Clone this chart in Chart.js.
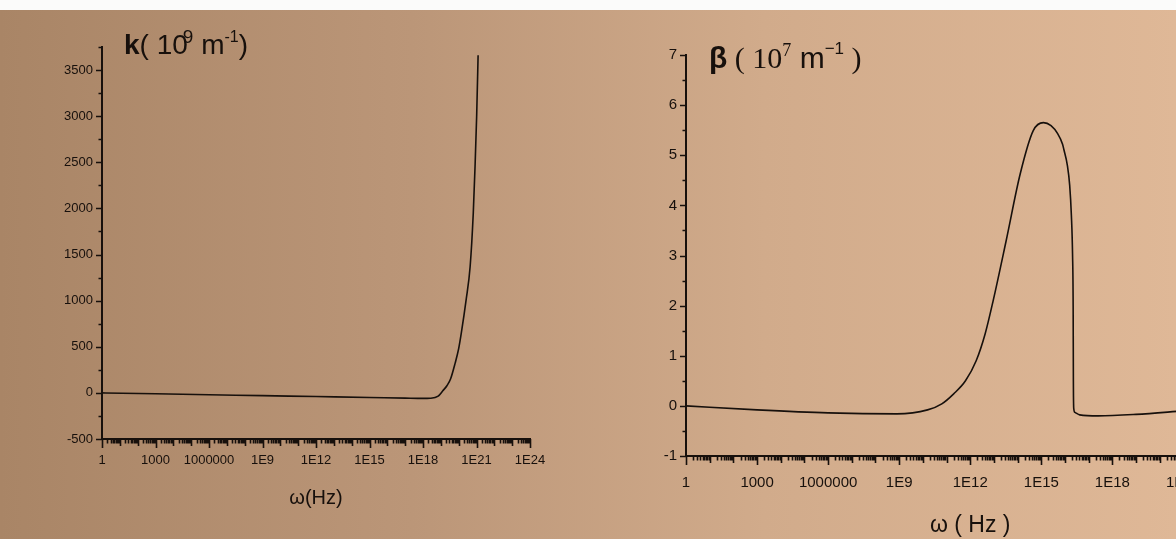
<!DOCTYPE html>
<html>
<head>
<meta charset="utf-8">
<script src="https://cdn.jsdelivr.net/npm/chart.js@4.4.1/dist/chart.umd.min.js"></script>
<style>
  html, body { margin: 0; padding: 0; }
  body {
    position: relative;
    width: 1176px;
    height: 539px;
    overflow: hidden;
    background: linear-gradient(90deg, #a98566 0%, #bb9678 35%, #d1ab8b 65%, #dfb897 100%);
    font-family: 'Liberation Sans', Arial, sans-serif;
    color: #17100c;
  }
  .strip { position: absolute; left: 0; top: 0; width: 100%; height: 10px; background: #fbfbfa; }
  canvas { position: absolute; top: 0; }
  #kChart { left: 0; }
  #betaChart { left: 590px; }
  .ttl { position: absolute; white-space: nowrap; line-height: 1; }
  .ttl sup { line-height: 0; }
  .serif { font-family: 'Liberation Serif', 'Times New Roman', serif; }
</style>
</head>
<body>
<div class="strip"></div>

<canvas id="kChart" width="590" height="539"></canvas>
<canvas id="betaChart" width="700" height="539"></canvas>

<div class="ttl" style="left:124px; top:31px; font-size:28px;">
  <b>k</b>( 10<sup style="font-size:19px; vertical-align:11px; margin-left:-5px;">9</sup> m<sup style="font-size:16px; vertical-align:12px;">-1</sup>)
</div>
<div class="ttl" style="left:709px; top:43px; font-size:30px;">
  <b>β</b><span class="serif"> ( 10<sup style="font-size:18px; vertical-align:12px;">7</sup></span> m<sup style="font-size:17px; vertical-align:14px;">−1</sup><span class="serif"> )</span>
</div>

<script>
// k(ω) in 10^9 m^-1
const omegaK = [1, 1e3, 1e6, 1e9, 1e12, 1e15, 1e17, 1e18, 2.5e18, 7.1e18, 1.26e19,
  2.24e19, 3.5e19, 6.3e19, 1e20, 1.41e20, 2.63e20, 4.4e20, 6.6e20, 8.3e20, 1.02e21, 1.23e21];
const kValues = [0, -10, -20, -30, -40, -50, -57, -60, -58, -35, 20,
  80, 150, 320, 480, 650, 1011, 1370, 1950, 2457, 3000, 3660];

// β(ω) in 10^7 m^-1
const omegaB = [1, 1e3, 1e6, 7.9e8, 1.58e10, 6.3e10, 2e11, 6.3e11, 1.78e12, 4.27e12,
  9.3e12, 3.3e13, 1.29e14, 4.57e14, 1.23e15, 2.57e15, 4.9e15, 7.9e15, 8.9e15,
  1.26e16, 1.58e16, 1.86e16, 2.09e16, 2.21e16, 2.26e16, 2.34e16, 2.63e16, 4.17e16,
  2.5e17, 1e19, 1e21];
const betaValues = [0, -0.08, -0.14, -0.16, -0.08, 0.04, 0.24, 0.5, 0.9, 1.44,
  2.1, 3.3, 4.63, 5.49, 5.65, 5.59, 5.43, 5.22, 5.12,
  4.8, 4.4, 3.8, 3.0, 2.0, 0.5, -0.05, -0.13, -0.18,
  -0.2, -0.17, -0.1];

// axis ticks
const omegaTicks = [1, 1e3, 1e6, 1e9, 1e12, 1e15, 1e18, 1e21, 1e24];
const omegaTickLabels = ['1', '1000', '1000000', '1E9', '1E12', '1E15', '1E18', '1E21', '1E24'];
const kTicks = [-500, 0, 500, 1000, 1500, 2000, 2500, 3000, 3500];
const betaTicks = [-1, 0, 1, 2, 3, 4, 5, 6, 7];

const INK = '#17100c';

// small tick marks like the printed figure: half-step minor ticks on y, log ticks on x
const tickMarks = {
  id: 'tickMarks',
  afterDraw(chart, args, opts) {
    const { ctx, scales: { x, y } } = chart;
    ctx.save();
    ctx.strokeStyle = INK;
    ctx.lineWidth = 1.6;
    ctx.beginPath();
    const half = opts.yStep / 2;
    for (let v = y.min; v <= y.max + 1e-9; v += half) {
      const py = Math.round(y.getPixelForValue(v)) + 0.5;
      const r = v / opts.yStep;
      const major = Math.abs(r - Math.round(r)) < 1e-6;
      ctx.moveTo(x.left, py);
      ctx.lineTo(x.left - (major ? 6 : 3.5), py);
    }
    for (let d = 0; d <= 24; d++) {
      for (let m = 1; m < 10; m++) {
        if (d === 24 && m > 1) break;
        const px = Math.round(x.getPixelForValue(m * Math.pow(10, d))) + 0.5;
        const len = m === 1 ? (d % 3 === 0 ? 9 : 7) : 4.5;
        ctx.moveTo(px, y.bottom);
        ctx.lineTo(px, y.bottom + len);
      }
    }
    ctx.stroke();
    ctx.restore();
  }
};

// Gráfica izquierda: k
new Chart(document.getElementById('kChart'), {
  type: 'line',
  data: {
    datasets: [{
      data: omegaK.map((w, i) => ({ x: w, y: kValues[i] })),
      borderColor: INK,
      borderWidth: 1.6,
      pointRadius: 0,
      cubicInterpolationMode: 'monotone'
    }]
  },
  options: {
    responsive: false,
    animation: false,
    devicePixelRatio: 1,
    layout: { padding: { left: 0, top: 47, right: 60, bottom: 0 } },
    plugins: {
      legend: { display: false },
      tooltip: { enabled: false },
      tickMarks: { yStep: 500 }
    },
    scales: {
      x: {
        type: 'logarithmic',
        min: 1,
        max: 1e24,
        afterBuildTicks: s => { s.ticks = omegaTicks.map(v => ({ value: v })); },
        afterFit: s => { s.height = 100; },
        grid: { display: false, drawTicks: false },
        border: { display: true, color: INK, width: 2 },
        ticks: {
          autoSkip: false, maxRotation: 0, minRotation: 0, padding: 14,
          color: INK, font: { family: 'Liberation Sans', size: 13 },
          callback: (v, i) => omegaTickLabels[i]
        },
        title: {
          display: true, text: 'ω(Hz)', color: INK,
          font: { family: 'Liberation Sans', size: 20 },
          padding: { top: 0, bottom: 29 }
        }
      },
      y: {
        min: -500,
        max: 3750,
        afterBuildTicks: s => { s.ticks = kTicks.map(v => ({ value: v })); },
        afterFit: s => { s.width = 102; },
        grid: { display: false, drawTicks: false },
        border: { display: true, color: INK, width: 2 },
        ticks: {
          padding: 9, color: INK, font: { family: 'Liberation Sans', size: 13 },
          callback: v => String(v)
        }
      }
    }
  },
  plugins: [tickMarks]
});

// Gráfica derecha: β
new Chart(document.getElementById('betaChart'), {
  type: 'line',
  data: {
    datasets: [{
      data: omegaB.map((w, i) => ({ x: w, y: betaValues[i] })),
      borderColor: INK,
      borderWidth: 1.6,
      pointRadius: 0,
      cubicInterpolationMode: 'monotone'
    }]
  },
  options: {
    responsive: false,
    animation: false,
    devicePixelRatio: 1,
    layout: { padding: { left: 0, top: 55, right: 28, bottom: 0 } },
    plugins: {
      legend: { display: false },
      tooltip: { enabled: false },
      tickMarks: { yStep: 1 }
    },
    scales: {
      x: {
        type: 'logarithmic',
        min: 1,
        max: 1e24,
        afterBuildTicks: s => { s.ticks = omegaTicks.map(v => ({ value: v })); },
        afterFit: s => { s.height = 83; },
        grid: { display: false, drawTicks: false },
        border: { display: true, color: INK, width: 2 },
        ticks: {
          autoSkip: false, maxRotation: 0, minRotation: 0, padding: 18,
          color: INK, font: { family: 'Liberation Sans', size: 15 },
          callback: (v, i) => omegaTickLabels[i]
        },
        title: {
          display: true, text: 'ω ( Hz )', color: INK,
          font: { family: 'Liberation Sans', size: 23 },
          padding: { top: 0, bottom: 0 }
        }
      },
      y: {
        min: -1,
        max: 7,
        afterBuildTicks: s => { s.ticks = betaTicks.map(v => ({ value: v })); },
        afterFit: s => { s.width = 96; },
        grid: { display: false, drawTicks: false },
        border: { display: true, color: INK, width: 2 },
        ticks: {
          padding: 9, color: INK, font: { family: 'Liberation Sans', size: 15 },
          callback: v => String(v)
        }
      }
    }
  },
  plugins: [tickMarks]
});
</script>
</body>
</html>
